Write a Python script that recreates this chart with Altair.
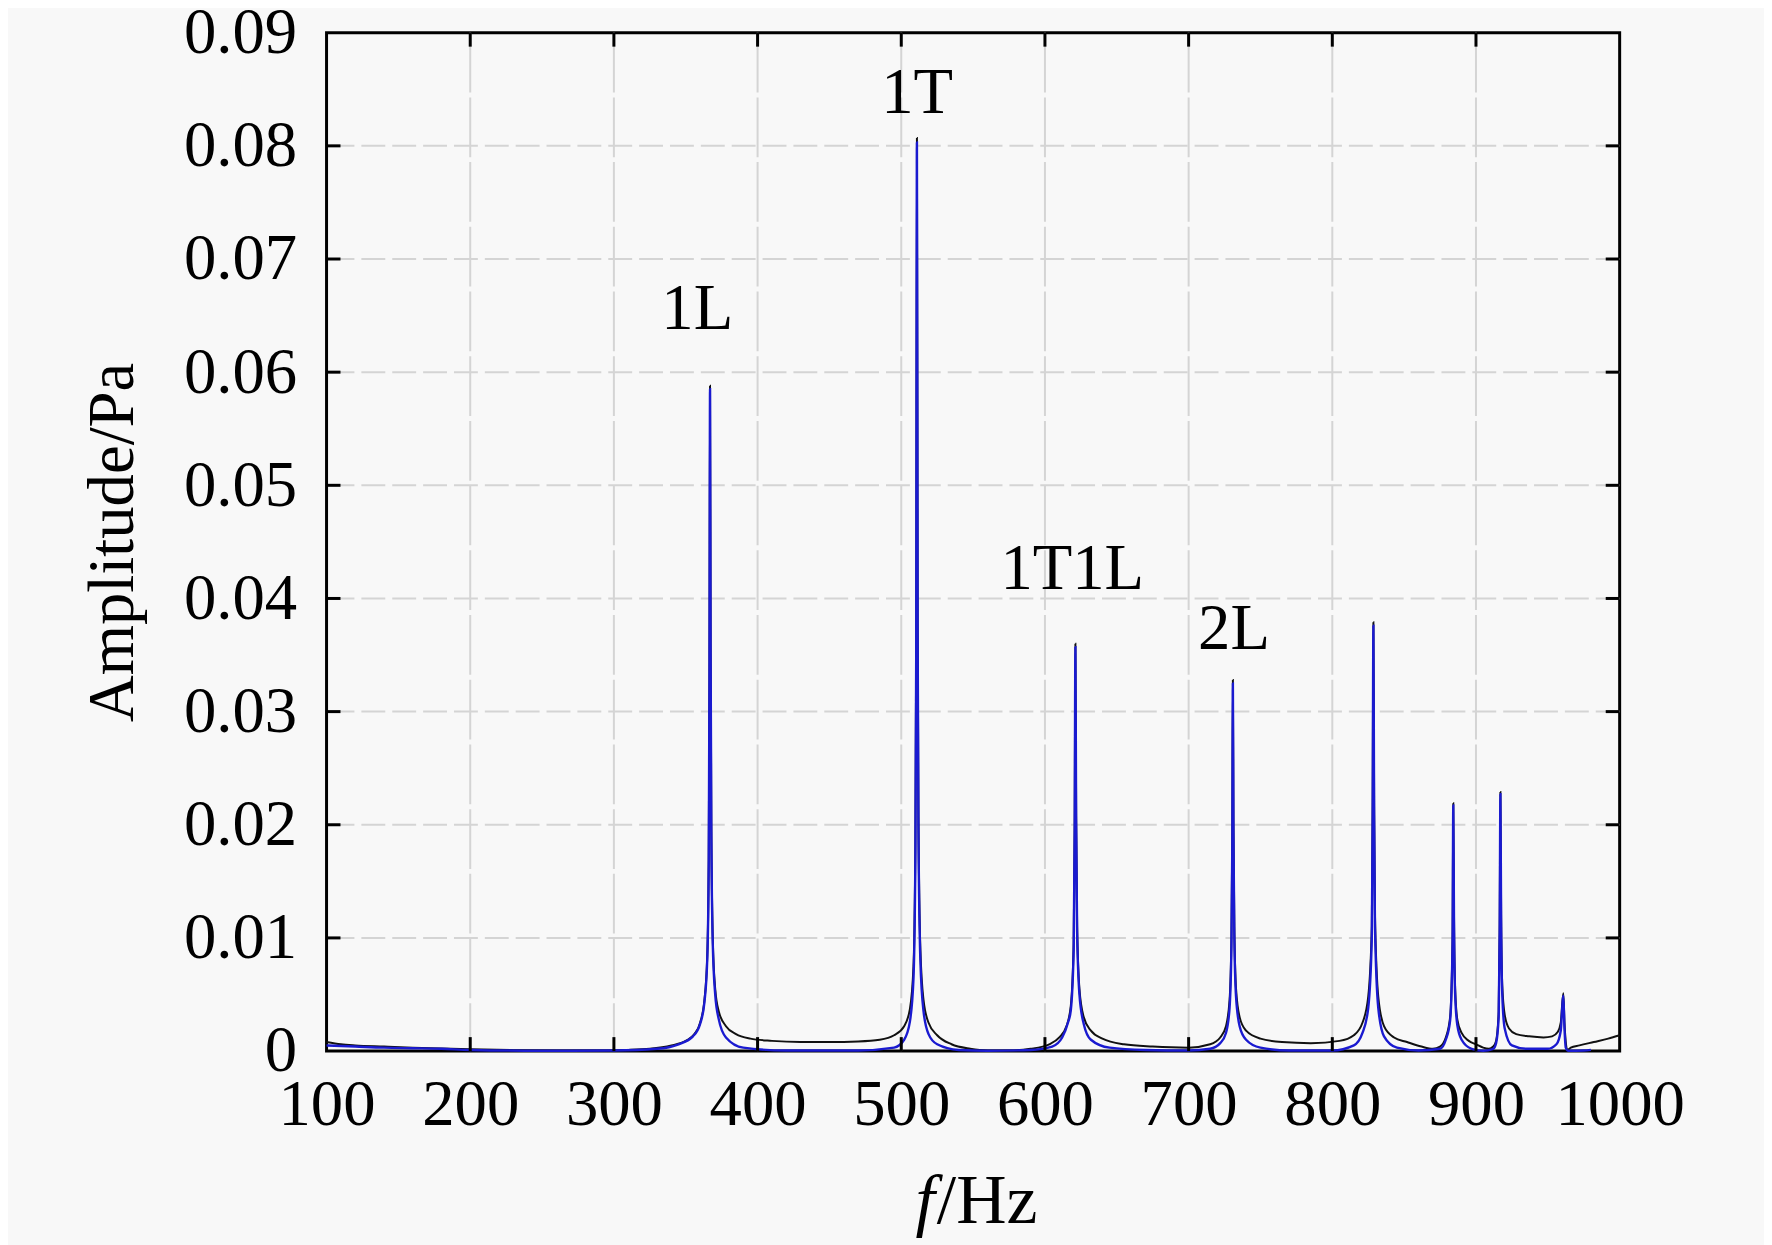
import altair as alt
import pandas as pd

# ---- data ----
freq_black = [100, 110, 120, 140, 160, 180, 200, 230, 260, 290, 310, 325, 340, 350, 356, 360, 363, 365, 366, 366.5, 366.9, 367.3, 367.8, 368.8, 370.5, 373, 378, 385, 395, 410, 430, 450, 470, 485, 495, 502, 506, 508.5, 509.8, 510.4, 510.9, 511.4, 512, 513.3, 515.5, 519, 525, 535, 548, 560, 575, 590, 603, 610, 615, 618, 620, 620.7, 621.2, 621.7, 622.4, 624, 627, 632, 640, 655, 675, 700, 715, 722, 726, 728.5, 729.8, 730.4, 730.8, 731.2, 731.8, 733, 735.5, 740, 750, 765, 785, 805, 815, 821, 825, 827.5, 828.1, 828.6, 829.1, 829.7, 832, 836, 843, 852, 862, 870, 875, 879, 882, 883.7, 884.2, 884.7, 885.5, 887, 890, 895, 900, 905, 909, 912, 914, 915.8, 916.5, 917.0, 917.5, 918.3, 920, 923, 928, 937, 947, 953, 957, 959, 960.8, 961.6, 962.5, 963.5, 966, 972, 982, 992, 1000]
amp_black = [0.0008, 0.0006, 0.0005, 0.0004, 0.0003, 0.00022, 0.00015, 0.00008, 0.00005, 0.00006, 0.0001, 0.0002, 0.0005, 0.0009, 0.0015, 0.0025, 0.0045, 0.0085, 0.017, 0.033, 0.0588, 0.036, 0.02, 0.01, 0.0055, 0.0035, 0.0022, 0.0015, 0.0011, 0.0009, 0.0008, 0.0008, 0.00085, 0.001, 0.0014, 0.0022, 0.0037, 0.0075, 0.018, 0.036, 0.0807, 0.038, 0.02, 0.009, 0.0045, 0.0025, 0.0014, 0.0006, 0.0002, 0.00005, 0.00005, 0.0002, 0.0006, 0.0012, 0.0022, 0.004, 0.0095, 0.02, 0.036, 0.021, 0.011, 0.0055, 0.003, 0.0018, 0.0011, 0.0006, 0.0004, 0.0003, 0.0006, 0.0012, 0.0022, 0.0045, 0.01, 0.019, 0.0328, 0.02, 0.011, 0.0055, 0.003, 0.0018, 0.0011, 0.0008, 0.0007, 0.0009, 0.0014, 0.0025, 0.0048, 0.011, 0.022, 0.0379, 0.022, 0.012, 0.0048, 0.0022, 0.0012, 0.0008, 0.0004, 0.0002, 0.0004, 0.0012, 0.003, 0.01, 0.0219, 0.012, 0.0055, 0.0028, 0.0016, 0.0009, 0.0006, 0.0003, 0.0002, 0.0004, 0.0009, 0.0035, 0.011, 0.0229, 0.012, 0.0058, 0.0032, 0.002, 0.0015, 0.0013, 0.0012, 0.0013, 0.0017, 0.0025, 0.0051, 0.0025, 0.0008, 0.0001, 0.0003, 0.0005, 0.0008, 0.0011, 0.0014]

freq_blue = [100, 120, 140, 160, 180, 200, 250, 300, 330, 345, 355, 360, 363, 365, 366, 366.5, 366.9, 367.3, 367.8, 368.8, 370.5, 373, 378, 390, 420, 470, 495, 502, 506, 508.5, 509.8, 510.4, 510.9, 511.4, 512, 513.3, 515.5, 519, 525, 540, 560, 590, 605, 612, 616, 618, 620, 620.7, 621.2, 621.7, 622.4, 624, 627, 632, 645, 670, 700, 715, 722, 726, 728.5, 729.8, 730.4, 730.8, 731.2, 731.8, 733, 735.5, 740, 750, 770, 800, 815, 821, 825, 827.5, 828.1, 828.6, 829.1, 829.7, 832, 836, 845, 860, 875, 879, 882, 883.7, 884.2, 884.7, 885.5, 887, 890, 897, 905, 912, 914, 915.8, 916.5, 917.0, 917.5, 918.3, 920, 925, 935, 950, 956, 959, 960.8, 961.6, 962.5, 964, 975, 980]
amp_blue = [0.0005, 0.0004, 0.0003, 0.00025, 0.0002, 0.0001, 0.00003, 0.00005, 0.0002, 0.0006, 0.0013, 0.0024, 0.0043, 0.0082, 0.0168, 0.0328, 0.0585, 0.0355, 0.0195, 0.0095, 0.005, 0.0028, 0.0012, 0.0003, 0.00005, 0.00005, 0.0003, 0.001, 0.0026, 0.0064, 0.017, 0.035, 0.0803, 0.037, 0.019, 0.008, 0.0035, 0.0015, 0.0006, 0.0001, 0.00003, 0.0001, 0.0004, 0.0012, 0.0025, 0.0036, 0.009, 0.0195, 0.0357, 0.0205, 0.0105, 0.005, 0.0024, 0.001, 0.0003, 0.0001, 0.00005, 0.0002, 0.0007, 0.0016, 0.0038, 0.0093, 0.0183, 0.0325, 0.0193, 0.0103, 0.0048, 0.0022, 0.001, 0.0003, 0.00005, 0.00005, 0.0005, 0.0016, 0.0038, 0.01, 0.021, 0.0376, 0.021, 0.011, 0.0038, 0.0013, 0.0003, 0.00005, 0.0002, 0.001, 0.0027, 0.0095, 0.0217, 0.0115, 0.005, 0.0023, 0.001, 0.0002, 0.00003, 0.0002, 0.0007, 0.003, 0.0105, 0.0227, 0.0115, 0.005, 0.002, 0.0005, 0.0002, 0.0002, 0.0006, 0.0018, 0.0049, 0.002, 0.0003, 0.00003, 0.00005, 0.0001]

peak_labels = ["1L", "1T", "1T1L", "2L"]
label_freq = [358, 511, 619, 731.6]
label_amp = [0.0638, 0.0829, 0.0408, 0.0355]

x_ticks = [100, 200, 300, 400, 500, 600, 700, 800, 900, 1000]
y_ticks = [0, 0.01, 0.02, 0.03, 0.04, 0.05, 0.06, 0.07, 0.08, 0.09]
x_inner = x_ticks[1:-1]
y_inner = y_ticks[1:-1]

W, H = 1299, 1023
FONT = "Liberation Serif"
TL = 14

black_df = pd.DataFrame({"f": freq_black, "a": amp_black})
blue_df = pd.DataFrame({"f": freq_blue, "a": amp_blue})
lab_df = pd.DataFrame({"t": peak_labels, "f": label_freq, "a": label_amp})
xg_df = pd.DataFrame({"f": x_inner})
yg_df = pd.DataFrame({"a": y_inner})

xs = alt.Scale(domain=[100, 1000], nice=False, zero=False)
ys = alt.Scale(domain=[0, 0.09], nice=False, zero=False)

x_axis = alt.Axis(values=x_ticks, labelFont=FONT, labelFontSize=65, labelColor="black",
                  ticks=False, domain=False, grid=False, labelPadding=23,
                  labelFlush=False, labelOverlap=False, labelExpr="format(datum.value, 'd')",
                  title=None)
y_axis = alt.Axis(values=y_ticks, labelFont=FONT, labelFontSize=65, labelColor="black",
                  ticks=False, domain=False, grid=False, labelPadding=30,
                  labelFlush=False, labelOverlap=False,
                  labelExpr="datum.value == 0 ? '0' : format(datum.value, '.2f')",
                  title="Amplitude/Pa", titleFont=FONT, titleFontSize=65,
                  titleFontWeight="normal", titleColor="black", titleAngle=270,
                  titleX=-195, titleY=H / 2, titleBaseline="alphabetic", titleAlign="center")

vgrid = alt.Chart(xg_df).mark_rule(color="#d4d4d4", strokeWidth=2, strokeDash=[60, 5]).encode(
    x=alt.X("f:Q", scale=xs, axis=x_axis))
hgrid = alt.Chart(yg_df).mark_rule(color="#d4d4d4", strokeWidth=2, strokeDash=[24, 7]).encode(
    y=alt.Y("a:Q", scale=ys, axis=y_axis))

black_line = alt.Chart(black_df).mark_line(color="#111111", strokeWidth=2, interpolate="monotone").encode(
    x=alt.X("f:Q", scale=xs), y=alt.Y("a:Q", scale=ys))
blue_line = alt.Chart(blue_df).mark_line(color="#1a1ad0", strokeWidth=2.4, interpolate="monotone").encode(
    x=alt.X("f:Q", scale=xs), y=alt.Y("a:Q", scale=ys))

tick_style = dict(color="black", strokeWidth=3)
bt = alt.Chart(xg_df).mark_rule(**tick_style).encode(
    x=alt.X("f:Q", scale=xs), y=alt.value(H - TL), y2=alt.value(H))
tt = alt.Chart(xg_df).mark_rule(**tick_style).encode(
    x=alt.X("f:Q", scale=xs), y=alt.value(0), y2=alt.value(TL))
lt = alt.Chart(yg_df).mark_rule(**tick_style).encode(
    y=alt.Y("a:Q", scale=ys), x=alt.value(0), x2=alt.value(TL))
rt = alt.Chart(yg_df).mark_rule(**tick_style).encode(
    y=alt.Y("a:Q", scale=ys), x=alt.value(W - TL), x2=alt.value(W))

labels = alt.Chart(lab_df).mark_text(font=FONT, fontSize=65, color="black",
                                     align="center", baseline="alphabetic").encode(
    x=alt.X("f:Q", scale=xs), y=alt.Y("a:Q", scale=ys), text="t:N")

xt_f = alt.Chart(pd.DataFrame({"t": ["f"]})).mark_text(
    font=FONT, fontSize=70, fontStyle="italic", color="black", align="right",
    baseline="alphabetic").encode(text="t:N", x=alt.value(611), y=alt.value(1196))
xt_hz = alt.Chart(pd.DataFrame({"t": ["/Hz"]})).mark_text(
    font=FONT, fontSize=70, color="black", align="left",
    baseline="alphabetic").encode(text="t:N", x=alt.value(613), y=alt.value(1196))

chart = alt.layer(vgrid, hgrid, black_line, blue_line, bt, tt, lt, rt, labels, xt_f, xt_hz).properties(
    width=W, height=H,
    autosize=alt.AutoSizeParams(type="none"),
    padding={"left": 320, "top": 22, "right": 145, "bottom": 192},
    background="#f8f8f8",
).configure_view(stroke="black", strokeWidth=3, fill="#f8f8f8")

chart.save("out.html", embed_options={"renderer": "svg", "actions": False})
